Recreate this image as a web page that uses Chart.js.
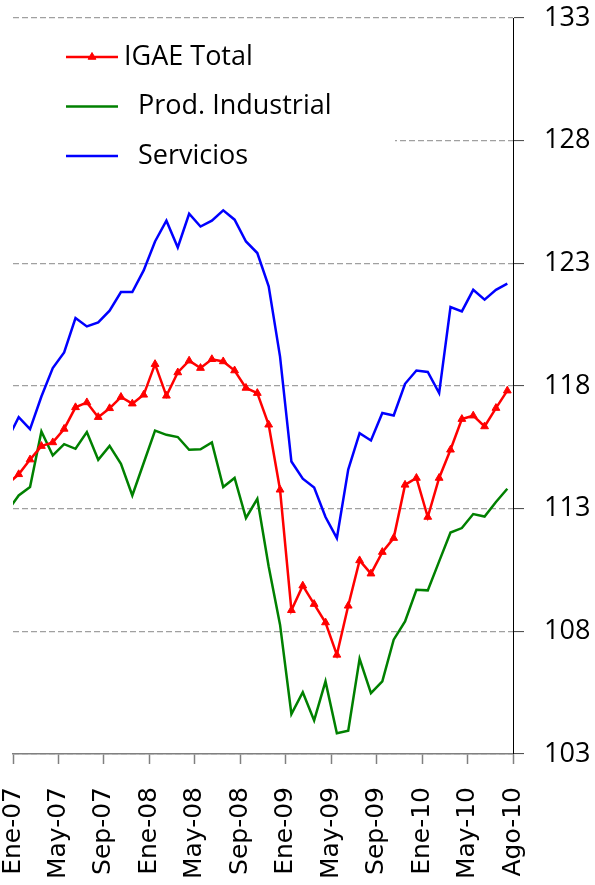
<!DOCTYPE html>
<html lang="es">
<head>
<meta charset="utf-8">
<title>IGAE, Producción Industrial y Servicios</title>
<script src="https://cdn.jsdelivr.net/npm/chart.js@4.4.1/dist/chart.umd.min.js"></script>
<style>
  html, body { margin: 0; padding: 0; background: #fff; }
  #wrap { width: 595px; height: 885px; }
</style>
</head>
<body>
<div id="wrap"><canvas id="grafica" width="595" height="885"></canvas></div>
<script>
// meses de la serie (Dic-06 queda fuera del eje, sólo entra el tramo hacia Ene-07)
const meses = [
  'Dic-06',
  'Ene-07', 'Feb-07', 'Mar-07', 'Abr-07', 'May-07', 'Jun-07', 'Jul-07', 'Ago-07', 'Sep-07', 'Oct-07', 'Nov-07', 'Dic-07',
  'Ene-08', 'Feb-08', 'Mar-08', 'Abr-08', 'May-08', 'Jun-08', 'Jul-08', 'Ago-08', 'Sep-08', 'Oct-08', 'Nov-08', 'Dic-08',
  'Ene-09', 'Feb-09', 'Mar-09', 'Abr-09', 'May-09', 'Jun-09', 'Jul-09', 'Ago-09', 'Sep-09', 'Oct-09', 'Nov-09', 'Dic-09',
  'Ene-10', 'Feb-10', 'Mar-10', 'Abr-10', 'May-10', 'Jun-10', 'Jul-10', 'Ago-10'
];

// etiquetas del eje horizontal
const etiquetasEje = ['Ene-07', 'May-07', 'Sep-07', 'Ene-08', 'May-08', 'Sep-08',
  'Ene-09', 'May-09', 'Sep-09', 'Ene-10', 'May-10', 'Ago-10'];

// series
const igaeTotal = [
  114.0,
  114.4, 115.0, 115.55, 115.7, 116.25, 117.13, 117.33, 116.73, 117.09, 117.55, 117.28, 117.64,
  118.89, 117.6, 118.55, 119.03, 118.73, 119.09, 119.0, 118.63, 117.92, 117.71, 116.42, 113.77,
  108.86, 109.86, 109.11, 108.36, 107.04, 109.04, 110.89, 110.35, 111.23, 111.8, 113.97, 114.25,
  112.66, 114.25, 115.4, 116.65, 116.79, 116.35, 117.1, 117.81
];
const prodIndustrial = [
  112.9,
  113.54, 113.88, 116.15, 115.17, 115.63, 115.44, 116.12, 114.99, 115.56, 114.83, 113.54, 114.86,
  116.18, 116.01, 115.92, 115.4, 115.42, 115.7, 113.88, 114.25, 112.62, 113.4, 110.64, 108.27,
  104.63, 105.52, 104.37, 105.96, 103.85, 103.95, 106.88, 105.48, 105.96, 107.66, 108.4, 109.69,
  109.67, 110.85, 112.03, 112.21, 112.78, 112.68, 113.27, 113.81
];
const servicios = [
  115.8,
  116.73, 116.24, 117.57, 118.73, 119.37, 120.77, 120.43, 120.59, 121.07, 121.83, 121.83, 122.71,
  123.89, 124.74, 123.65, 125.02, 124.5, 124.74, 125.16, 124.78, 123.89, 123.42, 122.06, 119.2,
  114.92, 114.22, 113.86, 112.66, 111.8, 114.59, 116.08, 115.78, 116.9, 116.8, 118.09, 118.63,
  118.57, 117.71, 121.22, 121.04, 121.92, 121.52, 121.92, 122.17
];

// pares (x, y) usando la posición del mes
function puntos(valores) {
  return valores.map((v, i) => ({ x: i, y: v }));
}

// leyenda dentro del área de trazado, con fondo blanco como en Excel
const leyendaInterna = {
  id: 'leyendaInterna',
  beforeDatasetsDraw(chart) {
    const ctx = chart.ctx;
    ctx.save();
    ctx.fillStyle = '#ffffff';
    ctx.fillRect(chart.chartArea.left, 24, 382, 172);

    chart.data.datasets.forEach((ds, i) => {
      const y = 57 + i * 49.5;
      ctx.strokeStyle = ds.borderColor;
      ctx.lineWidth = ds.borderWidth;
      ctx.beginPath();
      ctx.moveTo(66, y);
      ctx.lineTo(118, y);
      ctx.stroke();
      if (ds.pointRadius > 0) {
        ctx.fillStyle = ds.borderColor;
        ctx.lineWidth = 1;
        Chart.helpers.drawPoint(ctx, { pointStyle: 'triangle', radius: ds.pointRadius, borderWidth: 1, rotation: 0 }, 92, y);
      }
      ctx.fillStyle = '#000';
      ctx.font = '27px "Open Sans"';
      ctx.textAlign = 'left';
      ctx.textBaseline = 'middle';
      ctx.fillText(ds.label, 124, y);
    });
    ctx.restore();
  }
};

new Chart(document.getElementById('grafica'), {
  type: 'line',
  data: {
    datasets: [
      {
        label: 'IGAE Total',
        data: puntos(igaeTotal),
        borderColor: '#ff0000',
        backgroundColor: '#ff0000',
        borderWidth: 2.5,
        pointStyle: 'triangle',
        pointRadius: 4.5,
        pointBorderWidth: 1,
        pointBackgroundColor: '#ff0000',
        tension: 0,
        clip: 0
      },
      {
        label: '  Prod. Industrial',
        data: puntos(prodIndustrial),
        borderColor: '#008000',
        borderWidth: 2.5,
        pointRadius: 0,
        tension: 0,
        clip: 0
      },
      {
        label: '  Servicios',
        data: puntos(servicios),
        borderColor: '#0000ff',
        borderWidth: 2.5,
        pointRadius: 0,
        tension: 0,
        clip: 0
      }
    ]
  },
  options: {
    responsive: false,
    animation: false,
    layout: { padding: { left: 13, top: 18, right: 0, bottom: 0 } },
    plugins: {
      legend: { display: false },
      tooltip: { enabled: false }
    },
    scales: {
      x: {
        type: 'linear',
        min: 0.5,
        max: meses.length - 0.5,
        afterBuildTicks: (scale) => {
          // una marca cada 4 meses y la última en el borde derecho
          scale.ticks = etiquetasEje.map((_, k) => ({
            value: k < etiquetasEje.length - 1 ? 0.5 + 4 * k : meses.length - 0.5
          }));
        },
        afterFit: (scale) => {
          scale.height = 131;
          scale.paddingLeft = 0;
          scale.paddingRight = 0;
        },
        grid: { drawOnChartArea: false, drawTicks: true, tickLength: 10, tickColor: '#808080', tickWidth: 1.5 },
        border: { color: '#808080', width: 1.5 },
        ticks: {
          autoSkip: false,
          maxRotation: 90,
          minRotation: 90,
          padding: 23,
          color: '#000',
          font: { family: 'DejaVu Sans', size: 25 },
          callback: (value, index) => etiquetasEje[index]
        }
      },
      y: {
        position: 'right',
        min: 103,
        max: 133,
        afterFit: (scale) => {
          scale.width = 82;
          scale.paddingTop = 0;
          scale.paddingBottom = 0;
        },
        ticks: {
          stepSize: 5,
          padding: 20,
          color: '#000',
          font: { family: 'Open Sans', size: 27 }
        },
        grid: { color: '#a0a0a0', lineWidth: 1.2, tickLength: 11, tickColor: '#404040', tickWidth: 1 },
        border: { color: '#000', width: 1, dash: [6, 3] }
      }
    }
  },
  plugins: [leyendaInterna]
});
</script>
</body>
</html>
